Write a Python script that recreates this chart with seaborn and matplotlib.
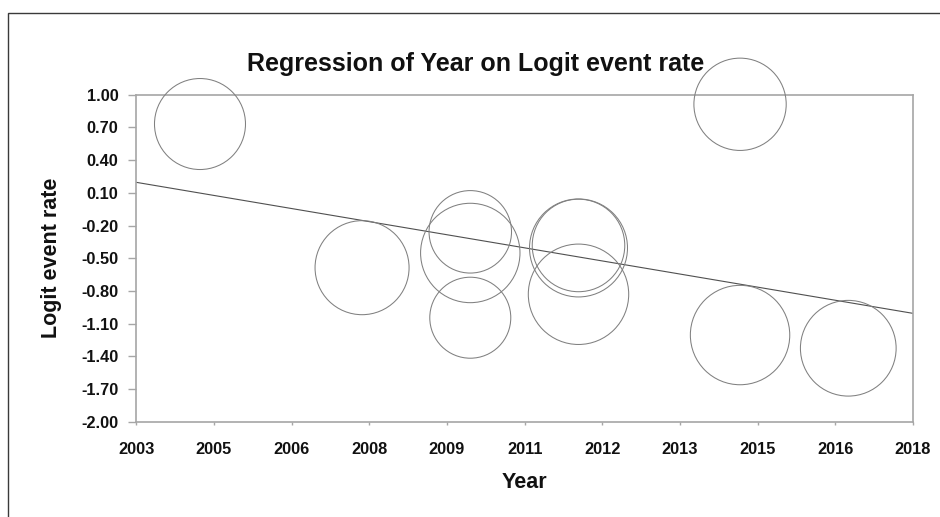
import numpy as np
import matplotlib
matplotlib.use("Agg")
import matplotlib.pyplot as plt
import seaborn as sns
from matplotlib.patches import Rectangle

# ---- data ----
years = [2004.23, 2007.36, 2009.45, 2009.45, 2009.45, 2011.54, 2011.54, 2011.54, 2014.66, 2014.66, 2016.75]
logit = [0.731, -0.587, -0.258, -0.452, -1.046, -0.406, -0.383, -0.831, 0.912, -1.205, -1.326]
weights = [20.7, 22.1, 17.0, 24.7, 16.4, 24.0, 21.4, 25.2, 21.3, 24.7, 22.9]

line_years = [2003.0, 2018.0]
line_values = [0.196, -1.006]

x_ticks = [2003.0, 2004.5, 2006.0, 2007.5, 2009.0, 2010.5, 2012.0, 2013.5, 2015.0, 2016.5, 2018.0]
x_tick_labels = ["2003", "2005", "2006", "2008", "2009", "2011", "2012", "2013", "2015", "2016", "2018"]
y_ticks = [1.0, 0.7, 0.4, 0.1, -0.2, -0.5, -0.8, -1.1, -1.4, -1.7, -2.0]
y_tick_labels = ["1.00", "0.70", "0.40", "0.10", "-0.20", "-0.50", "-0.80", "-1.10", "-1.40", "-1.70", "-2.00"]

title = "Regression of Year on Logit event rate"
x_label = "Year"
y_label = "Logit event rate"

# ---- styling ----
sns.set_style("white")
plt.rcParams["font.family"] = ["Liberation Sans", "DejaVu Sans"]

W, H = 940, 517
fig = plt.figure(figsize=(W / 100, H / 100), dpi=100)
fig.patch.set_facecolor("white")

left, right, top, bottom = 136.3, 913.0, 94.7, 421.7
ax = fig.add_axes([left / W, 1 - bottom / H, (right - left) / W, (bottom - top) / H])

# figure frame (top-left corner visible)
fig.add_artist(Rectangle((8 / W, -0.1), 1.2, 1 - 13 / H + 0.1, transform=fig.transFigure,
                         fill=False, edgecolor="#3a3a3a", linewidth=1.0))

# bubbles: size proportional to weight
k = 207.36
sns.scatterplot(x=years, y=logit, size=weights, sizes=(0, k * 30), size_norm=(0, 30),
                facecolor="none", edgecolor="#808080", linewidth=0.75, legend=False,
                ax=ax, clip_on=False, zorder=3)

# regression line
sns.lineplot(x=line_years, y=line_values, color="#505050", linewidth=0.8, ax=ax)

ax.set_xlim(2003, 2018)
ax.set_ylim(-2.0, 1.0)
ax.set_xticks(x_ticks)
ax.set_xticklabels(x_tick_labels)
ax.set_yticks(y_ticks)
ax.set_yticklabels(y_tick_labels)

for s in ax.spines.values():
    s.set_visible(True)
    s.set_color("#a6a6a6")
    s.set_linewidth(1.2)

ax.tick_params(axis="y", direction="out", length=5.8, width=1.0, color="#a6a6a6",
               pad=7, labelsize=11.8, left=True)
ax.tick_params(axis="x", direction="out", length=2, width=1.0, color="#a6a6a6",
               pad=12.5, labelsize=11.8, bottom=True)
for lab in ax.get_xticklabels() + ax.get_yticklabels():
    lab.set_fontweight("bold")
    lab.set_color("#111111")

fig.text(476 / W, 1 - 71 / H, title, ha="center", va="baseline",
         fontsize=18, fontweight="bold", color="#111111")
fig.text(524 / W, 1 - 488 / H, x_label, ha="center", va="baseline",
         fontsize=15.5, fontweight="bold", color="#111111")
fig.text(52 / W, 1 - 258 / H, y_label, ha="center", va="center", rotation=90,
         fontsize=15.5, fontweight="bold", color="#111111")

fig.savefig("out.png", dpi=100, facecolor="white")
